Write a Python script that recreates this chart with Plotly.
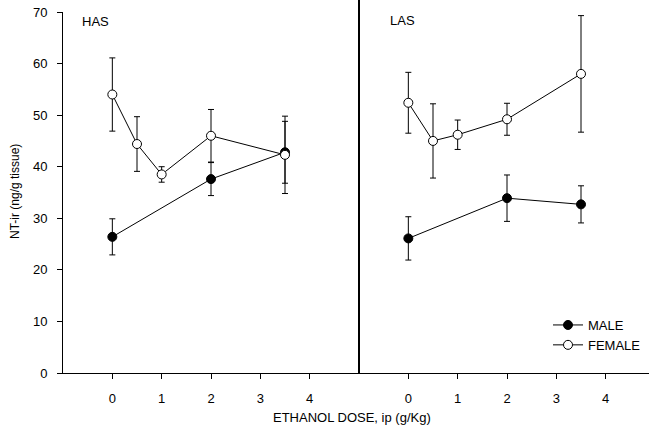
import plotly.graph_objects as go

# ---- data ----
has_male_x = [0, 2, 3.5]
has_male_y = [26.4, 37.6, 42.8]
has_male_err = [3.5, 3.2, 6.0]

has_female_x = [0, 0.5, 1, 2, 3.5]
has_female_y = [54.0, 44.4, 38.5, 46.0, 42.3]
has_female_err = [7.1, 5.3, 1.5, 5.1, 7.5]

las_male_x = [0, 2, 3.5]
las_male_y = [26.1, 33.9, 32.7]
las_male_err = [4.2, 4.5, 3.6]

las_female_x = [0, 0.5, 1, 2, 3.5]
las_female_y = [52.4, 45.0, 46.2, 49.2, 58.0]
las_female_err = [5.9, 7.2, 2.85, 3.1, 11.3]

x_ticks = [0, 1, 2, 3, 4]
y_ticks = [0, 10, 20, 30, 40, 50, 60, 70]

FONT = "Arial, Liberation Sans, Helvetica, sans-serif"
W, H = 649, 430
ML, MR, MT, MB = 63, 0, 12, 57
pw = W - ML - MR
ph = H - MT - MB
split = (359 - ML) / pw

def px_x(px):
    return (px - ML) / pw

def px_y(py):
    return (H - MB - py) / ph

fig = go.Figure()

def add_series(x, y, err, xa, name, filled, show):
    fig.add_trace(go.Scatter(
        x=x, y=y, xaxis=xa, yaxis="y", name=name, showlegend=show,
        mode="lines+markers",
        line=dict(color="black", width=1),
        marker=dict(size=9, color="black" if filled else "white",
                    line=dict(color="black", width=1)),
        error_y=dict(type="data", array=err, visible=True,
                     color="black", thickness=1, width=3),
    ))

add_series(has_male_x, has_male_y, has_male_err, "x", "MALE", True, True)
add_series(has_female_x, has_female_y, has_female_err, "x", "FEMALE", False, True)
add_series(las_male_x, las_male_y, las_male_err, "x2", "MALE", True, False)
add_series(las_female_x, las_female_y, las_female_err, "x2", "FEMALE", False, False)

axis_common = dict(
    showgrid=False, zeroline=False, showline=True, linecolor="black", linewidth=1,
    ticks="outside", ticklen=5, tickcolor="black", tickwidth=1,
    tickvals=x_ticks, tickfont=dict(family=FONT, size=13, color="black"),
    ticklabelstandoff=8,
)

unit = (359 - 63) / 6.0
fig.update_layout(
    width=W, height=H,
    margin=dict(l=ML, r=MR, t=MT, b=MB),
    paper_bgcolor="white", plot_bgcolor="white",
    font=dict(family=FONT, color="black"),
    xaxis=dict(domain=[0, split], range=[-1, 5], anchor="y", **axis_common),
    xaxis2=dict(domain=[split, 1], range=[-1, (649 - 359) / unit - 1],
                anchor="y", **axis_common),
    yaxis=dict(range=[0, 70], tickvals=y_ticks, showgrid=False, zeroline=False,
               showline=True, linecolor="black", linewidth=1,
               ticks="outside", ticklen=5, tickcolor="black",
               tickfont=dict(family=FONT, size=13, color="black"),
               ticklabelstandoff=7),
    legend=dict(x=px_x(548), y=px_y(310), xanchor="left", yanchor="top",
                bgcolor="rgba(0,0,0,0)", font=dict(family=FONT, size=13),
                itemwidth=30, tracegroupgap=0),
    shapes=[dict(type="line", xref="paper", yref="paper", x0=split, x1=split,
                 y0=0, y1=px_y(0), line=dict(color="black", width=2))],
    annotations=[
        dict(text="HAS", xref="paper", yref="paper", x=px_x(80), y=px_y(22),
             xanchor="left", yanchor="middle", showarrow=False,
             font=dict(family=FONT, size=13)),
        dict(text="LAS", xref="paper", yref="paper", x=px_x(388), y=px_y(21),
             xanchor="left", yanchor="middle", showarrow=False,
             font=dict(family=FONT, size=13)),
        dict(text="ETHANOL DOSE, ip (g/Kg)", xref="paper", yref="paper",
             x=px_x(352), y=px_y(418), xanchor="center", yanchor="middle",
             showarrow=False, font=dict(family=FONT, size=13)),
        dict(text="NT-ir (ng/g tissue)", xref="paper", yref="paper",
             x=px_x(15), y=px_y(192), xanchor="center", yanchor="middle",
             textangle=-90, showarrow=False, font=dict(family=FONT, size=12)),
    ],
)

fig.write_html("out.html", config={"displayModeBar": False},
               post_script="document.body.style.margin='0';")
